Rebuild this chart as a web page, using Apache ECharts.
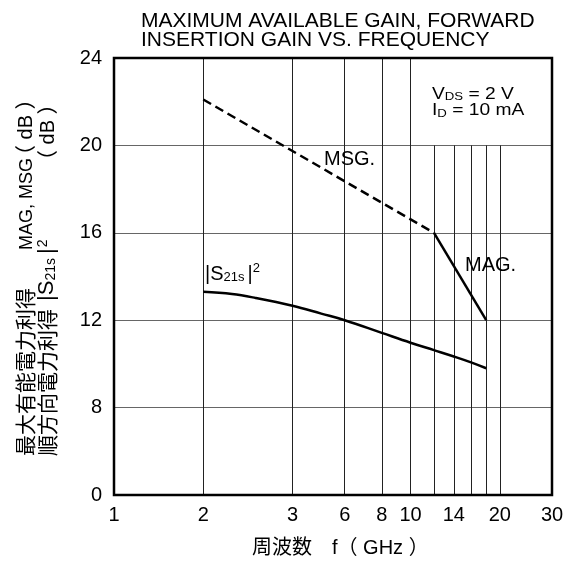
<!DOCTYPE html>
<html>
<head>
<meta charset="utf-8">
<script src="https://cdn.jsdelivr.net/npm/echarts@6/dist/echarts.min.js"></script>
<style>
  html, body { margin: 0; padding: 0; background: #fff; }
  #chart { width: 575px; height: 564px; }
</style>
</head>
<body>
<div id="chart"></div>
<script>
// ---- data ----
const s21Freq = [2, 2.5, 3, 4, 5, 6, 8, 10, 12, 14, 16, 18];
const s21Gain = [13.3, 13.2, 13.02, 12.66, 12.3, 12.0, 11.42, 10.97, 10.63, 10.34, 10.07, 9.8];
const msgFreq = [2, 12];
const msgGain = [22.1, 16.0];
const magFreq = [12, 18];
const magGain = [16.0, 12.0];

// x axis tick labels (log frequency axis); the original sheet prints "3" at 4 GHz
const xLabelValues = [1, 2, 4, 6, 8, 10, 14, 20, 30];
const xLabelTexts = ['1', '2', '3', '6', '8', '10', '14', '20', '30'];
const xGridFull = [2, 4, 6, 8, 10];
const xGridPartial = [12, 14, 16, 18, 20];
// y axis (broken: bottom tick printed as 0)
const yTickValues = [4, 8, 12, 16, 20, 24];
const yTickTexts = ['0', '8', '12', '16', '20', '24'];

const FONT = 'Liberation Sans, Arial, Noto Sans CJK JP, sans-serif';
const CJK = 'Noto Sans CJK JP, sans-serif';

function pairs(xs, ys) { return xs.map((x, i) => [x, ys[i]]); }

const chart = echarts.init(document.getElementById('chart'));
const G = { left: 114, right: 23, top: 58, bottom: 69 };
const plotH = 564 - G.top - G.bottom;
const y20 = G.top + plotH * (24 - 20) / 20;

function vtext(x, y, text, rich) {
  return {
    type: 'text', x: x, y: y, rotation: Math.PI / 2, z: 10,
    style: { text: text, align: 'left', verticalAlign: 'middle', rich: rich, fill: '#000' }
  };
}
const RY = {
  c: { fontFamily: CJK, fontSize: 21, lineHeight: 22, verticalAlign: 'bottom', fill: '#000' },
  l: { fontFamily: FONT, fontSize: 18, lineHeight: 22, verticalAlign: 'bottom', fill: '#000' },
  m: { fontFamily: FONT, fontSize: 20, lineHeight: 22, verticalAlign: 'bottom', fill: '#000' },
  b: { fontFamily: FONT, fontSize: 22, lineHeight: 22, verticalAlign: 'bottom', fill: '#000' },
  s: { fontFamily: FONT, fontSize: 14, lineHeight: 14, verticalAlign: 'bottom', fill: '#000', padding: [0, 4, 0, 0] },
  p: { fontFamily: FONT, fontSize: 14, lineHeight: 14, verticalAlign: 'top', fill: '#000', padding: [0, 0, 0, 1] }
};

chart.setOption({
  animation: false,
  backgroundColor: '#fff',
  title: {
    text: 'MAXIMUM AVAILABLE GAIN, FORWARD\nINSERTION GAIN VS. FREQUENCY',
    left: 136, top: 6,
    textStyle: { fontFamily: FONT, fontSize: 21, fontWeight: 'normal', color: '#000', lineHeight: 19.5 }
  },
  grid: [
    { left: G.left, right: G.right, top: G.top, bottom: G.bottom, show: true, borderColor: '#000', borderWidth: 2.5, z: 3 },
    { left: G.left, right: G.right, top: y20, bottom: G.bottom, show: false }
  ],
  xAxis: [
    {
      type: 'log', logBase: 10, min: 1, max: 30, gridIndex: 0,
      axisLine: { show: false },
      axisTick: { show: false, customValues: xGridFull },
      splitLine: { show: true, lineStyle: { color: '#222', width: 1 } },
      axisLabel: {
        customValues: xLabelValues, margin: 10,
        fontFamily: FONT, fontSize: 20, color: '#000',
        formatter: function (v) {
          let best = 0;
          xLabelValues.forEach((t, i) => { if (Math.abs(t - v) < Math.abs(xLabelValues[best] - v)) best = i; });
          return xLabelTexts[best];
        }
      }
    },
    {
      type: 'log', logBase: 10, min: 1, max: 30, gridIndex: 1,
      axisLine: { show: false },
      axisTick: { show: false, customValues: xGridPartial },
      axisLabel: { show: false },
      splitLine: { show: true, lineStyle: { color: '#222', width: 1 } }
    }
  ],
  yAxis: [
    {
      type: 'value', min: 4, max: 24, interval: 4, gridIndex: 0,
      axisLine: { show: false }, axisTick: { show: false },
      splitLine: { show: true, lineStyle: { color: '#666', width: 1 } },
      axisLabel: {
        margin: 12, fontFamily: FONT, fontSize: 20, color: '#000',
        formatter: function (v) { const i = yTickValues.indexOf(v); return i >= 0 ? yTickTexts[i] : ''; }
      }
    },
    { type: 'value', min: 4, max: 20, gridIndex: 1, show: false }
  ],
  series: [
    {
      name: 'S21', type: 'line', xAxisIndex: 0, yAxisIndex: 0,
      data: pairs(s21Freq, s21Gain), smooth: 0.4, showSymbol: false, z: 5,
      lineStyle: { color: '#000', width: 2.5 }
    },
    {
      name: 'MSG', type: 'line', xAxisIndex: 0, yAxisIndex: 0,
      data: pairs(msgFreq, msgGain), showSymbol: false, z: 5,
      lineStyle: { color: '#000', width: 2.5, type: [9, 5] }
    },
    {
      name: 'MAG', type: 'line', xAxisIndex: 0, yAxisIndex: 0,
      data: pairs(magFreq, magGain), showSymbol: false, z: 5,
      lineStyle: { color: '#000', width: 2.5 }
    }
  ],
  graphic: [
    {
      type: 'text', x: 432, y: 86, z: 10, scaleX: 1.2,
      style: {
        text: '{n|V}{s|DS}{n| = 2 V}\n{n|I}{s|D}{n| = 10 mA}',
        fill: '#000',
        rich: {
          n: { fontFamily: FONT, fontSize: 16, lineHeight: 16.5, verticalAlign: 'bottom', fill: '#000' },
          s: { fontFamily: FONT, fontSize: 11, lineHeight: 11, verticalAlign: 'bottom', fill: '#000' }
        }
      }
    },
    {
      type: 'text', x: 324, y: 149, z: 10,
      style: { text: 'MSG.', fontFamily: FONT, fontSize: 20, fill: '#000' }
    },
    {
      type: 'text', x: 465, y: 255, z: 10,
      style: { text: 'MAG.', fontFamily: FONT, fontSize: 20, fill: '#000' }
    },
    {
      type: 'text', x: 205, y: 262, z: 10,
      style: {
        text: '{n||S}{s|21s}{n||}{p|2}',
        rich: {
          n: { fontFamily: FONT, fontSize: 20, lineHeight: 22, verticalAlign: 'bottom', fill: '#000' },
          s: { fontFamily: FONT, fontSize: 13, lineHeight: 13, verticalAlign: 'bottom', fill: '#000', padding: [0, 3, 0, 0] },
          p: { fontFamily: FONT, fontSize: 13, lineHeight: 13, verticalAlign: 'top', fill: '#000' }
        }
      }
    },
    {
      type: 'text', x: 252, y: 548, z: 10,
      style: {
        text: '周波数　f（ GHz ）',
        fontFamily: FONT, fontSize: 20, fill: '#000', verticalAlign: 'middle'
      }
    },
    // y-axis title, line 1
    vtext(25, 456, '{c|最大有能電力利得}', RY),
    vtext(25, 250, '{l|MAG, MSG}', RY),
    vtext(25, 166, '{c|（}{m| dB }{c|）}', RY),
    // y-axis title, line 2
    vtext(47, 456, '{c|順方向電力利得}', RY),
    vtext(47, 301, '{b||S}{s|21s}{b||}{p|2}', RY),
    vtext(47, 171, '{c|（}{m| dB }{c|）}', RY)
  ]
});
</script>
</body>
</html>
